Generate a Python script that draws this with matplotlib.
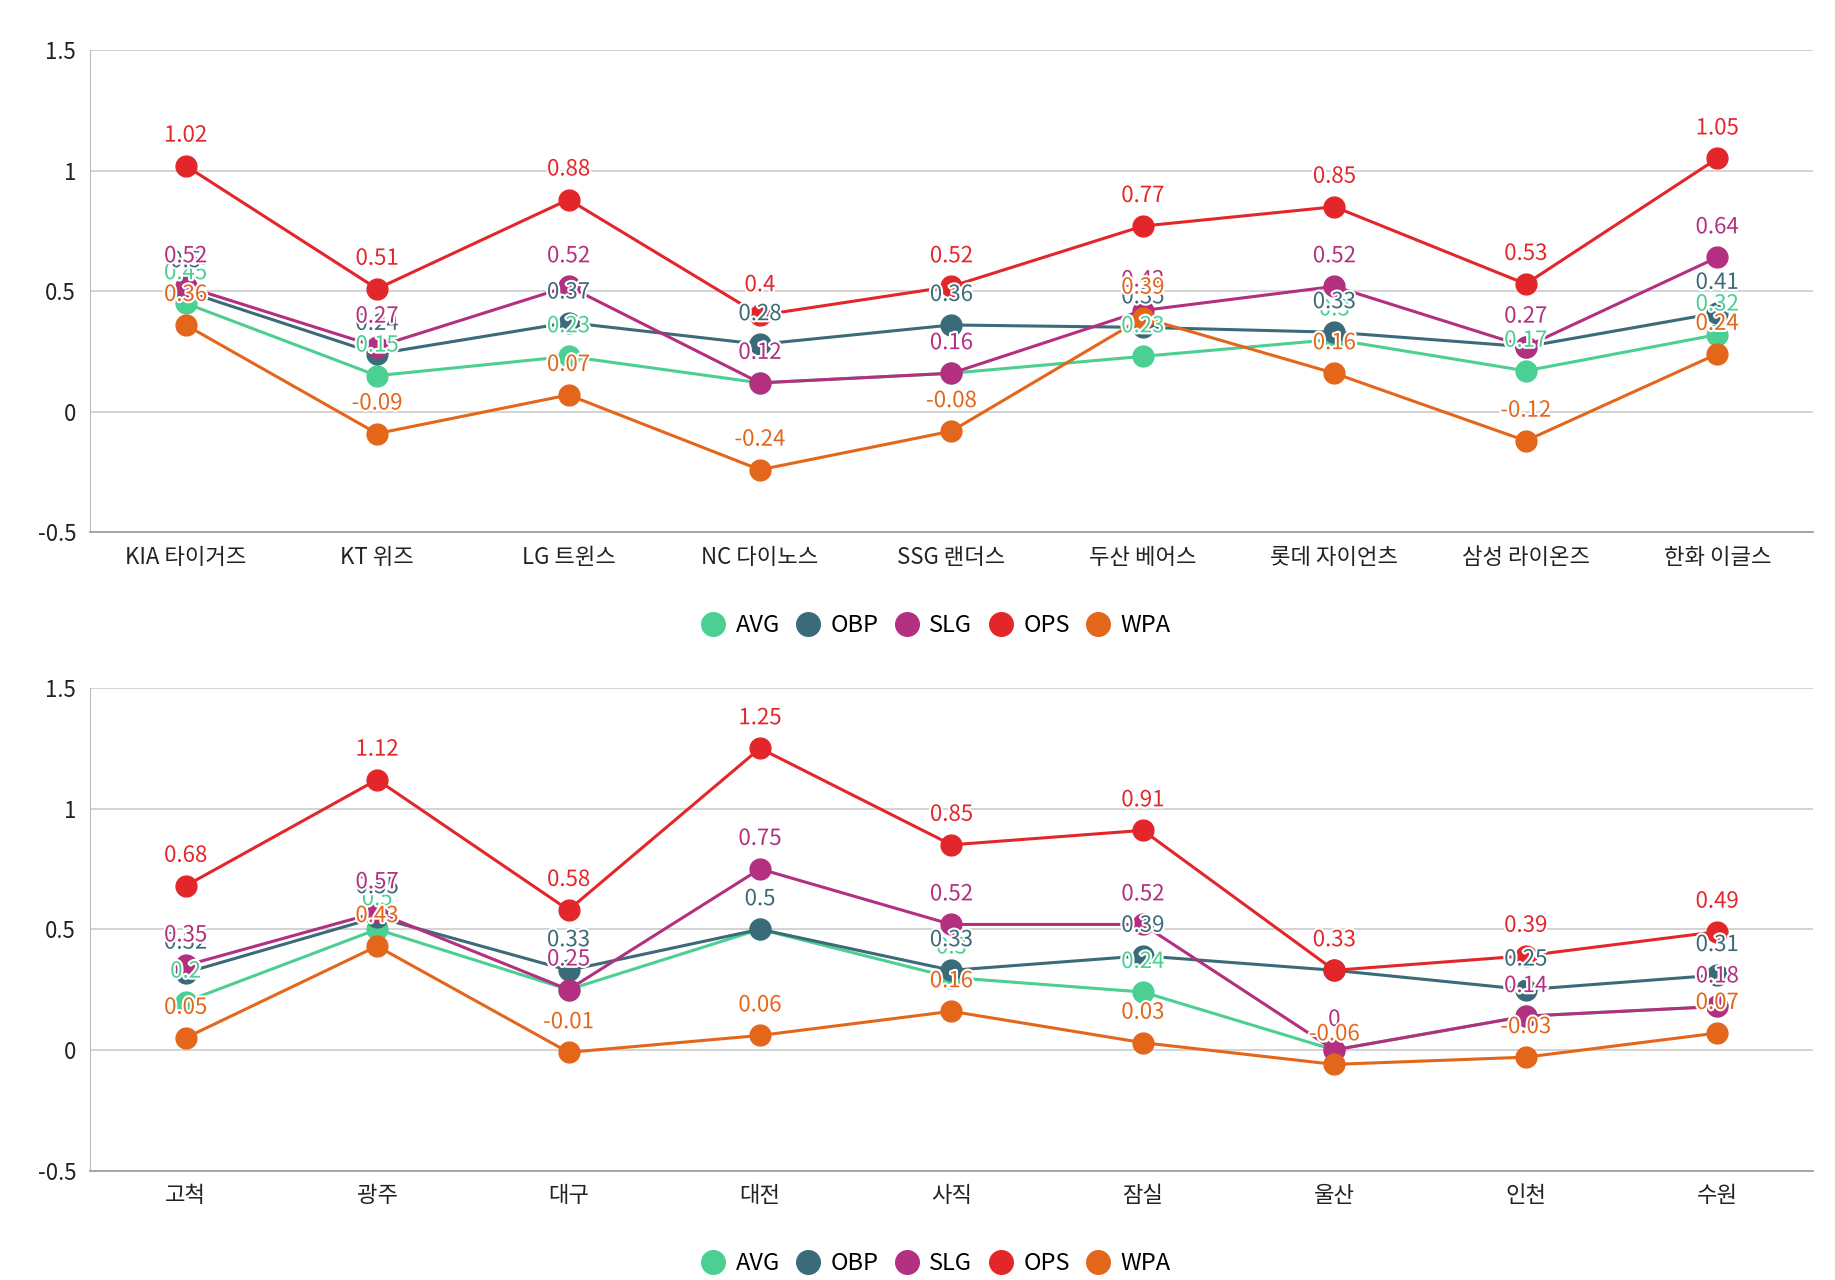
import matplotlib
matplotlib.use('Agg')
import matplotlib.pyplot as plt
import matplotlib.patheffects as pe
from matplotlib.lines import Line2D

plt.rcParams['font.family'] = ['Noto Sans CJK KR', 'DejaVu Sans']

# top chart: by team
teams = ['KIA 타이거즈', 'KT 위즈', 'LG 트윈스', 'NC 다이노스', 'SSG 랜더스',
         '두산 베어스', '롯데 자이언츠', '삼성 라이온즈', '한화 이글스']
team_avg = [0.45, 0.15, 0.23, 0.12, 0.16, 0.23, 0.3, 0.17, 0.32]
team_obp = [0.5, 0.24, 0.37, 0.28, 0.36, 0.35, 0.33, 0.27, 0.41]
team_slg = [0.52, 0.27, 0.52, 0.12, 0.16, 0.42, 0.52, 0.27, 0.64]
team_ops = [1.02, 0.51, 0.88, 0.4, 0.52, 0.77, 0.85, 0.53, 1.05]
team_wpa = [0.36, -0.09, 0.07, -0.24, -0.08, 0.39, 0.16, -0.12, 0.24]

# bottom chart: by stadium
parks = ['고척', '광주', '대구', '대전', '사직', '잠실', '울산', '인천', '수원']
park_avg = [0.2, 0.5, 0.25, 0.5, 0.3, 0.24, 0.0, 0.14, 0.18]
park_obp = [0.32, 0.55, 0.33, 0.5, 0.33, 0.39, 0.33, 0.25, 0.31]
park_slg = [0.35, 0.57, 0.25, 0.75, 0.52, 0.52, 0.0, 0.14, 0.18]
park_ops = [0.68, 1.12, 0.58, 1.25, 0.85, 0.91, 0.33, 0.39, 0.49]
park_wpa = [0.05, 0.43, -0.01, 0.06, 0.16, 0.03, -0.06, -0.03, 0.07]

names = ['AVG', 'OBP', 'SLG', 'OPS', 'WPA']
colors = ['#4bcf92', '#3b6a78', '#b32f80', '#e3262a', '#e3661b']


def fmt(v):
    s = ('%.2f' % v).rstrip('0').rstrip('.')
    if s == '-0':
        s = '0'
    return s


def draw(ax, cats, series):
    x = list(range(len(cats)))
    for vals, c in zip(series, colors):
        ax.plot(x, vals, color=c, lw=2.2, marker='o', ms=15, zorder=3)
    for vals, c in zip(series, colors):
        for xi, v in zip(x, vals):
            ax.annotate(fmt(v), (xi, v), xytext=(0, 22), textcoords='offset points',
                        ha='center', va='center', fontsize=16, color=c, zorder=5,
                        path_effects=[pe.withStroke(linewidth=3, foreground='white')])
    ax.set_xlim(-0.5, len(cats) - 0.5)
    ax.set_ylim(-0.5, 1.5)
    ax.set_yticks([-0.5, 0, 0.5, 1, 1.5])
    ax.set_yticklabels(['-0.5', '0', '0.5', '1', '1.5'])
    ax.set_xticks(x)
    ax.set_xticklabels(cats)
    ax.grid(axis='y', color='#cccccc', lw=1.2)
    ax.set_axisbelow(True)
    for s in ['top', 'right']:
        ax.spines[s].set_visible(False)
    ax.spines['left'].set_color('#bbbbbb')
    ax.spines['bottom'].set_color('#999999')
    ax.spines['bottom'].set_linewidth(1.2)
    ax.tick_params(axis='both', length=0, labelsize=16, colors='#222222', pad=10)
    handles = [Line2D([], [], ls='', marker='o', ms=17, color=c) for c in colors]
    ax.legend(handles, names, loc='upper center', bbox_to_anchor=(0.49, -0.125),
              ncol=5, frameon=False, fontsize=17, handletextpad=0.3,
              columnspacing=0.55, handlelength=1.3)


fig = plt.figure(figsize=(18.35, 12.8), dpi=100)
ax1 = fig.add_axes([0.049, 0.584, 0.939, 0.377])
ax2 = fig.add_axes([0.049, 0.0855, 0.939, 0.377])

draw(ax1, teams, [team_avg, team_obp, team_slg, team_ops, team_wpa])
draw(ax2, parks, [park_avg, park_obp, park_slg, park_ops, park_wpa])

fig.savefig('out.png', dpi=100)
